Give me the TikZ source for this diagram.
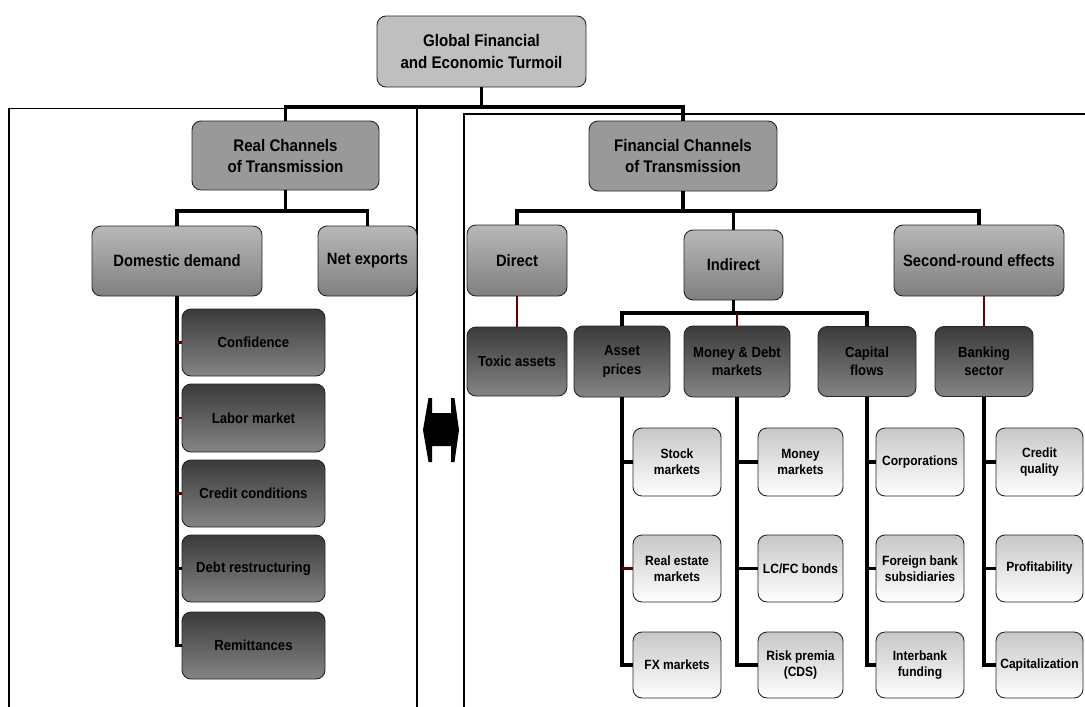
\documentclass[tikz,border=0pt]{standalone}
\usepackage{fontspec}
\setmainfont{Liberation Sans}[FakeStretch=0.9]
\begin{document}
\begin{tikzpicture}[x=1pt,y=-1pt,
  box/.style={draw=black!85, line width=0.9pt, rounded corners=9pt, align=center, inner sep=0pt},
  lvlzero/.style={box, fill=black!25, font=\fontsize{16.8}{21.5}\selectfont\bfseries},
  lvlone/.style={box, fill=black!40, font=\fontsize{16.8}{21}\selectfont\bfseries},
  lvltwo/.style={box, top color=black!28, bottom color=black!50, font=\fontsize{16.4}{18}\selectfont\bfseries},
  darkbox/.style={box, top color=black!77, bottom color=black!48, font=\fontsize{14.6}{18.5}\selectfont\bfseries},
  lightbox/.style={box, top color=black!22, bottom color=white, font=\fontsize{13.4}{16}\selectfont\bfseries},
  conn/.style={line width=3.3pt, black},
  redconn/.style={line width=2.6pt, color={rgb,255:red,100;green,0;blue,0}},
  panel/.style={line width=1.5pt, black}
]
\useasboundingbox (0,0) rectangle (1085,707);
% panels
\draw[panel] (9,707) -- (9,108.5) -- (417,108.5) -- (417,707);
\draw[panel] (464,707) -- (464,114) -- (1085,114);

% top
\node[lvlzero, minimum width=209pt, minimum height=71pt] (turm) at (481.5,51.5) {Global Financial\\and Economic Turmoil};
\node[lvlone, minimum width=187pt, minimum height=69pt] (real) at (285.5,155.5) {Real Channels\\of Transmission};
\node[lvlone, minimum width=188pt, minimum height=70pt] (fin) at (683,156) {Financial Channels\\of Transmission};

% level two
\node[lvltwo, minimum width=170pt, minimum height=70pt] (dom) at (177,261) {Domestic demand};
\node[lvltwo, minimum width=99pt, minimum height=70pt] (net) at (367.5,261) {Net exports};
\node[lvltwo, minimum width=100pt, minimum height=71pt] (direct) at (517,260.5) {Direct};
\node[lvltwo, minimum width=99pt, minimum height=70pt] (indirect) at (733.5,265) {Indirect};
\node[lvltwo, minimum width=170pt, minimum height=71pt] (second) at (979,260.5) {Second-round effects};

% real channel children
\node[darkbox, minimum width=143pt, minimum height=67pt] (conf) at (253.5,342.5) {Confidence};
\node[darkbox, minimum width=143pt, minimum height=68pt] (labor) at (253.5,418) {Labor market};
\node[darkbox, minimum width=143pt, minimum height=67pt] (credit) at (253.5,493.5) {Credit conditions};
\node[darkbox, minimum width=143pt, minimum height=67pt] (debt) at (253.5,568.5) {Debt restructuring};
\node[darkbox, minimum width=143pt, minimum height=67pt] (remit) at (253.5,645.5) {Remittances};

% financial level three
\node[darkbox, minimum width=100pt, minimum height=69pt] (toxic) at (517,361.5) {Toxic assets};
\node[darkbox, minimum width=96pt, minimum height=71pt] (asset) at (622,361.5) {Asset\\prices};
\node[darkbox, minimum width=106pt, minimum height=71pt] (money) at (737,361.5) {Money \& Debt\\markets};
\node[darkbox, minimum width=98pt, minimum height=70pt] (capital) at (867,361.5) {Capital\\flows};
\node[darkbox, minimum width=98pt, minimum height=70pt] (bank) at (984,361.5) {Banking\\sector};

% light boxes
\node[lightbox, minimum width=88pt, minimum height=68pt] (stock) at (677,462) {Stock\\markets};
\node[lightbox, minimum width=88pt, minimum height=67pt] (realest) at (677,568.5) {Real estate\\markets};
\node[lightbox, minimum width=88pt, minimum height=66pt] (fx) at (677,665) {FX markets};
\node[lightbox, minimum width=85pt, minimum height=68pt] (mm) at (800.5,462) {Money\\markets};
\node[lightbox, minimum width=85pt, minimum height=67pt] (lcfc) at (800.5,568.5) {LC/FC bonds};
\node[lightbox, minimum width=85pt, minimum height=66pt] (risk) at (800.5,665) {Risk premia\\(CDS)};
\node[lightbox, minimum width=88pt, minimum height=68pt] (corp) at (920,462) {Corporations};
\node[lightbox, minimum width=88pt, minimum height=67pt] (fbs) at (920,568.5) {Foreign bank\\subsidiaries};
\node[lightbox, minimum width=88pt, minimum height=66pt] (inter) at (920,665) {Interbank\\funding};
\node[lightbox, minimum width=87pt, minimum height=68pt] (cq) at (1039.5,462) {Credit\\quality};
\node[lightbox, minimum width=87pt, minimum height=67pt] (prof) at (1039.5,568.5) {Profitability};
\node[lightbox, minimum width=87pt, minimum height=66pt] (capz) at (1039.5,665) {Capitalization};

% connectors top
\coordinate (jt) at (481.5,107);
\draw[conn] (turm.south) -- (jt);
\draw[conn] (jt) -| (real.north);
\draw[conn] (jt) -| (fin.north);
% real
\coordinate (jr) at (285.5,211);
\draw[conn] (real.south) -- (jr);
\draw[conn] (jr) -| (dom.north);
\draw[conn] (jr) -| (net.north);
% fin
\coordinate (jf) at (683,211);
\draw[conn] (fin.south) -- (jf);
\draw[conn] (jf) -| (direct.north);
\draw[conn] (jf) -| (indirect.north);
\draw[conn] (jf) -| (second.north);
% indirect
\coordinate (ji) at (733.5,313);
\draw[conn] (indirect.south) -- (ji);
\draw[conn] (ji) -| (asset.north);
\draw[conn] (ji) -| (capital.north);
\draw[redconn] (money.north |- ji) -- (money.north);
\draw[redconn] (direct.south) -- (toxic.north);
\draw[redconn] (bank.north |- second.south) -- (bank.north);
% domestic demand children
\draw[conn] (dom.south) |- (remit.west);
\draw[conn] (dom.south |- debt.west) -- (debt.west);
\draw[redconn] (dom.south |- conf.west) -- (conf.west);
\draw[redconn] (dom.south |- labor.west) -- (labor.west);
\draw[redconn] (dom.south |- credit.west) -- (credit.west);
% asset prices children
\draw[conn] (asset.south) |- (fx.west);
\draw[conn] (asset.south |- stock.west) -- (stock.west);
\draw[redconn] (asset.south |- realest.west) -- (realest.west);
% money children
\draw[conn] (money.south) |- (risk.west);
\draw[conn] (money.south |- mm.west) -- (mm.west);
\draw[conn] (money.south |- lcfc.west) -- (lcfc.west);
% capital children
\draw[conn] (capital.south) |- (inter.west);
\draw[conn] (capital.south |- corp.west) -- (corp.west);
\draw[conn] (capital.south |- fbs.west) -- (fbs.west);
% banking children
\draw[conn] (bank.south) |- (capz.west);
\draw[conn] (bank.south |- cq.west) -- (cq.west);
\draw[conn] (bank.south |- prof.west) -- (prof.west);

% double arrow between panels
\fill[black] (423,430) -- (428.5,398) -- (432,398) -- (432,413) -- (451,413) -- (451,398) -- (454.5,398)
  -- (459,430) -- (454.5,462) -- (451,462) -- (451,446) -- (432,446) -- (432,462) -- (428.5,462) -- cycle;
\end{tikzpicture}
\end{document}
